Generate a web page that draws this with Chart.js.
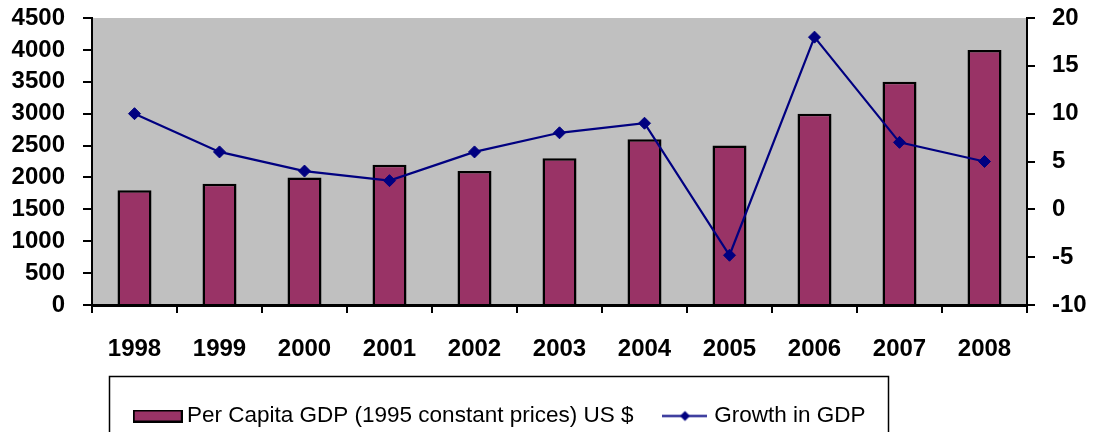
<!DOCTYPE html>
<html>
<head>
<meta charset="utf-8">
<script src="https://cdn.jsdelivr.net/npm/chart.js@4/dist/chart.umd.min.js"></script>
<style>
  html, body { margin: 0; padding: 0; background: #ffffff; }
  #wrap { width: 1093px; height: 432px; position: relative; }
</style>
</head>
<body>
<div id="wrap"><canvas id="c" width="1093" height="432"></canvas></div>
<script>
// ---- data ----
const years = ['1998', '1999', '2000', '2001', '2002', '2003', '2004', '2005', '2006', '2007', '2008'];
const perCapitaGDP = [1800, 1900, 2000, 2200, 2100, 2300, 2600, 2500, 3000, 3500, 4000];
const growthGDP = [10, 6, 4, 3, 6, 8, 9, -4.8, 18, 7, 5];
const seriesNames = ['Per Capita GDP (1995 constant prices) US $', 'Growth in GDP'];
const leftAxisRange = [0, 4500, 500];
const rightAxisRange = [-10, 20, 5];

// ---- styles ----
const BAR_COLOR = '#993366';
const LINE_COLOR = '#000080';
const PLOT_BG = '#C0C0C0';
const TICK_FONT = { family: 'Liberation Sans, Arial, sans-serif', size: 24, weight: 'bold' };
const LEGEND_FONT_SIZE = 22.5;
const LEGEND_PAD = 33.5;

function makeBarMarker() {
  const cv = document.createElement('canvas');
  cv.width = 50; cv.height = 13;
  const g = cv.getContext('2d');
  g.fillStyle = BAR_COLOR;
  g.fillRect(0, 0, 50, 13);
  g.strokeStyle = '#000';
  g.lineWidth = 2;
  g.strokeRect(1, 1, 48, 11);
  return cv;
}
function makeLineMarker() {
  const cv = document.createElement('canvas');
  cv.width = 45; cv.height = 13;
  const g = cv.getContext('2d');
  g.strokeStyle = LINE_COLOR;
  g.lineWidth = 2;
  g.beginPath(); g.moveTo(0, 6.5); g.lineTo(45, 6.5); g.stroke();
  g.fillStyle = LINE_COLOR;
  g.beginPath();
  g.moveTo(22.5, 1.5); g.lineTo(27.5, 6.5); g.lineTo(22.5, 11.5); g.lineTo(17.5, 6.5); g.closePath();
  g.fill();
  return cv;
}
const legendMarkers = [makeBarMarker(), makeLineMarker()];

const plotBg = {
  id: 'plotBg',
  beforeDraw(chart) {
    const { ctx, chartArea: a } = chart;
    ctx.save();
    ctx.fillStyle = '#ffffff';
    ctx.fillRect(0, 0, chart.width, chart.height);
    ctx.fillStyle = PLOT_BG;
    ctx.fillRect(a.left, a.top, a.right - a.left, a.bottom - a.top);
    ctx.restore();
  }
};

const legendPlace = {
  id: 'legendPlace',
  afterLayout(chart) {
    const lg = chart.legend;
    if (!lg) return;
    const h = lg.height;
    lg.left = 139.75 - LEGEND_PAD;
    lg.right = chart.width;
    lg.width = lg.right - lg.left;
    lg.top = 416 - LEGEND_PAD - LEGEND_FONT_SIZE / 2;
    lg.bottom = lg.top + h;
  },
  afterDraw(chart) {
    const ctx = chart.ctx;
    ctx.save();
    ctx.strokeStyle = '#000';
    ctx.lineWidth = 1.5;
    ctx.strokeRect(109.5, 376.5, 779, 100);
    ctx.restore();
  }
};

function noPad(s) {
  s.paddingTop = 0; s.paddingBottom = 0; s.paddingLeft = 0; s.paddingRight = 0;
}

new Chart(document.getElementById('c'), {
  type: 'bar',
  data: {
    labels: years,
    datasets: [
      {
        type: 'bar',
        label: seriesNames[0],
        data: perCapitaGDP,
        yAxisID: 'y',
        backgroundColor: BAR_COLOR,
        borderColor: '#000000',
        borderWidth: 2.5,
        barPercentage: 0.4,
        categoryPercentage: 1.0,
        order: 1
      },
      {
        type: 'line',
        label: seriesNames[1],
        data: growthGDP,
        yAxisID: 'y1',
        borderColor: LINE_COLOR,
        backgroundColor: LINE_COLOR,
        borderWidth: 2.2,
        tension: 0,
        pointStyle: 'rectRot',
        pointRadius: 6,
        pointBackgroundColor: LINE_COLOR,
        pointBorderColor: LINE_COLOR,
        pointBorderWidth: 1,
        clip: false,
        order: 0
      }
    ]
  },
  options: {
    responsive: false,
    animation: false,
    events: [],
    layout: { padding: { top: 18, left: 0, right: 0, bottom: 0 } },
    plugins: {
      tooltip: { enabled: false },
      legend: {
        display: true,
        position: 'bottom',
        align: 'start',
        labels: {
          color: '#000',
          font: { family: 'Liberation Sans, Arial, sans-serif', size: LEGEND_FONT_SIZE },
          padding: LEGEND_PAD,
          usePointStyle: true,
          pointStyleWidth: 36,
          sort: (a, b) => a.datasetIndex - b.datasetIndex,
          generateLabels(chart) {
            const items = Chart.defaults.plugins.legend.labels.generateLabels(chart);
            items.forEach(it => { it.pointStyle = legendMarkers[it.datasetIndex]; });
            return items;
          }
        }
      }
    },
    scales: {
      x: {
        offset: true,
        grid: { display: true, drawOnChartArea: false, drawTicks: true, tickLength: 8, color: '#000', lineWidth: 2, offset: true },
        border: { display: true, color: '#000', width: 3 },
        ticks: { color: '#000', font: TICK_FONT, padding: 22, maxRotation: 0, autoSkip: false },
        afterFit(s) {
          const lh = s.chart.legend ? s.chart.legend.height : 0;
          s.height = Math.max(1, 432 - 305 - lh);
          noPad(s);
        }
      },
      y: {
        position: 'left',
        min: leftAxisRange[0],
        max: leftAxisRange[1],
        ticks: { stepSize: leftAxisRange[2], autoSkip: false, color: '#000', font: TICK_FONT, padding: 18, callback: v => String(v) },
        grid: { drawOnChartArea: false, tickLength: 9, color: '#000', lineWidth: 2 },
        border: { display: true, color: '#000', width: 2 },
        afterFit(s) { s.width = 92; noPad(s); }
      },
      y1: {
        position: 'right',
        min: rightAxisRange[0],
        max: rightAxisRange[1],
        ticks: { stepSize: rightAxisRange[2], autoSkip: false, color: '#000', font: TICK_FONT, padding: 17, callback: v => String(v) },
        grid: { drawOnChartArea: false, tickLength: 8, color: '#000', lineWidth: 2 },
        border: { display: true, color: '#000', width: 2 },
        afterFit(s) { s.width = 66; noPad(s); }
      }
    }
  },
  plugins: [plotBg, legendPlace]
});
</script>
</body>
</html>
